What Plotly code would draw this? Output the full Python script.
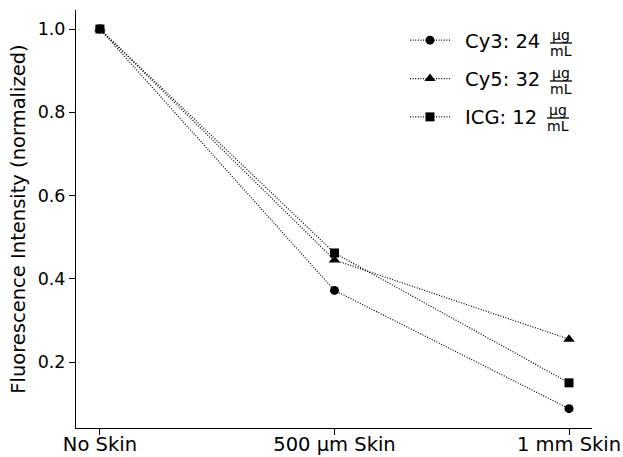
import plotly.graph_objects as go

categories = ["No Skin", "500 µm Skin", "1 mm Skin"]
cy3 = [1.0, 0.372, 0.088]
cy5 = [1.0, 0.445, 0.255]
icg = [1.0, 0.462, 0.150]
names = ["Cy3: 24", "Cy5: 32", "ICG: 12"]
symbols = ["circle", "triangle-up", "square"]
ytick_vals = [0.2, 0.4, 0.6, 0.8, 1.0]

FONT = "DejaVu Sans"
L, R, T, B = 76, 31, 10, 29
W, H = 623, 457
PW, PH = W - L - R, H - T - B

fig = go.Figure()
for i, (vals, nm, sym) in enumerate(zip([cy3, cy5, icg], names, symbols)):
    fig.add_trace(go.Scatter(
        x=list(range(len(categories))), y=vals, name="\u00a0\u2009" + nm, mode="lines+markers",
        legendgroup=nm,
        line=dict(color="black", width=1.2, dash="1px,1.6px"),
        marker=dict(symbol=sym, color="black", size=10 if sym == "triangle-up" else 9),
    ))

def py2paper(py):
    return (H - B - py) / PH

def px2paper(px):
    return (px - L) / PW

# fraction µg/mL next to each legend entry
frac_x = [561, 561, 558]
frac_y = [43, 81, 118]
for fx, fy in zip(frac_x, frac_y):
    fig.add_annotation(x=px2paper(fx), y=py2paper(fy - 8), xref="paper", yref="paper",
                       text="µg", showarrow=False, font=dict(family=FONT, size=14, color="black"),
                       xanchor="center", yanchor="middle")
    fig.add_annotation(x=px2paper(fx), y=py2paper(fy + 8), xref="paper", yref="paper",
                       text="mL", showarrow=False, font=dict(family=FONT, size=14, color="black"),
                       xanchor="center", yanchor="middle")
    fig.add_shape(type="line", xref="paper", yref="paper",
                  x0=px2paper(fx - 11), x1=px2paper(fx + 11),
                  y0=py2paper(fy), y1=py2paper(fy),
                  line=dict(color="black", width=1.3))

fig.update_layout(
    width=W, height=H,
    margin=dict(l=L, r=R, t=T, b=B, pad=0, autoexpand=False),
    paper_bgcolor="white", plot_bgcolor="white",
    font=dict(family=FONT, size=19.5, color="black"),
    showlegend=True,
    legend=dict(x=px2paper(405), y=py2paper(21), xanchor="left", yanchor="top",
                bgcolor="rgba(0,0,0,0)", borderwidth=0, itemwidth=40,
                tracegroupgap=10, font=dict(family=FONT, size=19.5, color="black")),
    xaxis=dict(range=[-0.102, 2.098], tickvals=list(range(len(categories))), ticktext=categories,
               automargin=False, ticklabelstandoff=-7,
               showgrid=False, zeroline=False, showline=True, linecolor="black", linewidth=1,
               ticks="outside", ticklen=6, tickwidth=1, tickcolor="black",
               tickfont=dict(family=FONT, size=19.5, color="black")),
    yaxis=dict(range=[0.0415, 1.0457], tickvals=ytick_vals, ticktext=[f"{v:.1f}" for v in ytick_vals],
               automargin=False,
               showgrid=False, zeroline=False, showline=True, linecolor="black", linewidth=1,
               ticks="outside", ticklen=6, tickwidth=1, tickcolor="black",
               tickfont=dict(family=FONT, size=17.5, color="black"),
               title=dict(text="Fluorescence Intensity (normalized)", standoff=6,
                          font=dict(family=FONT, size=19.5, color="black"))),
)

fig.write_html("out.html", config={"displayModeBar": False},
               post_script="document.body.style.margin='0';")
